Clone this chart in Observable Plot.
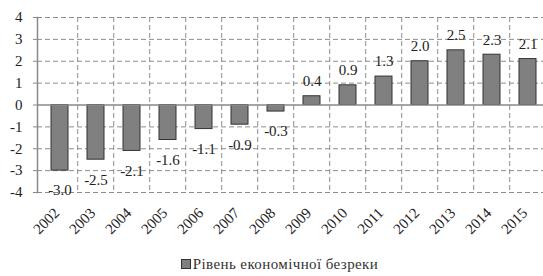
<!DOCTYPE html>
<html>
<head>
<meta charset="utf-8">
<script src="https://cdn.jsdelivr.net/npm/d3@7"></script>
<script src="https://cdn.jsdelivr.net/npm/@observablehq/plot@0.6"></script>
<style>
  html, body { margin: 0; padding: 0; background: #fff; }
  #chart { width: 543px; height: 276px; overflow: hidden; }
  .legend { height: 24px; display: flex; justify-content: center; align-items: center; font-family: "Liberation Serif", "DejaVu Serif", serif; font-size: 15px; letter-spacing: 0.4px; color: #333; padding-left: 16px; box-sizing: border-box; }
  .legend .sw { display: inline-block; width: 8px; height: 8px; background: #808080; border: 1px solid #333; margin-right: 2px; }
</style>
</head>
<body>
<div id="chart"></div>
<script>
const years = ["2002","2003","2004","2005","2006","2007","2008","2009","2010","2011","2012","2013","2014","2015"];
const values = [-3.0, -2.5, -2.1, -1.6, -1.1, -0.9, -0.3, 0.4, 0.9, 1.3, 2.0, 2.5, 2.3, 2.1];
const yTicks = [-4, -3, -2, -1, 0, 1, 2, 3, 4];
const seriesName = "Рівень економічної безреки";

const data = years.map((year, i) => ({year, value: values[i]}));
const font = "Liberation Serif";
const W = 543, ML = 37, MR = -6;
const step = (W - ML - MR) / years.length;

const svg = Plot.plot({
  width: W,
  height: 252,
  marginLeft: ML,
  marginRight: MR,
  marginTop: 17,
  marginBottom: 60,
  style: {fontFamily: font, background: "#fff", color: "#333"},
  x: {domain: years, paddingInner: 0.53, paddingOuter: 0.265, axis: null},
  y: {domain: [-4, 4], axis: null},
  marks: [
    Plot.ruleY(yTicks.filter(d => d !== 0), {y: d => d, stroke: "#8c8c8c", strokeDasharray: "5,3", strokeWidth: 1}),
    Plot.ruleX(years.slice(1), {x: d => d, dx: -step / 2, stroke: "#8c8c8c", strokeDasharray: "5,3", strokeWidth: 1}),
    Plot.barY(data, {x: "year", y: "value", fill: "#808080", stroke: "#333", strokeWidth: 1}),
    Plot.ruleY([0], {stroke: "#888", strokeWidth: 1.5}),
    Plot.frame({anchor: "left", stroke: "#888", strokeWidth: 1.5}),
    Plot.axisY({ticks: yTicks, label: null, tickSize: 4, tickPadding: 11, tickFormat: d => `${d}`, fontSize: 15, fontFamily: font, stroke: "#888", fill: "#222"}),
    Plot.text(data.filter(d => d.value >= 0), {x: "year", y: "value", text: d => d.value.toFixed(1), dy: -15, fontSize: 15, fill: "#222", stroke: "#fff", strokeWidth: 0}),
    Plot.text(data.filter(d => d.value < 0), {x: "year", y: "value", text: d => d.value.toFixed(1), dy: 20, fontSize: 15, fill: "#222"}),
    Plot.text(years, {x: d => d, y: () => -4, text: d => d, rotate: -45, textAnchor: "end", dx: -3, dy: 18, fontSize: 15, fill: "#222"})
  ]
});

const chart = document.getElementById("chart");
chart.appendChild(svg);
const legend = document.createElement("div");
legend.className = "legend";
legend.innerHTML = `<span class="sw"></span><span></span>`;
legend.lastChild.textContent = seriesName;
chart.appendChild(legend);
</script>
</body>
</html>
